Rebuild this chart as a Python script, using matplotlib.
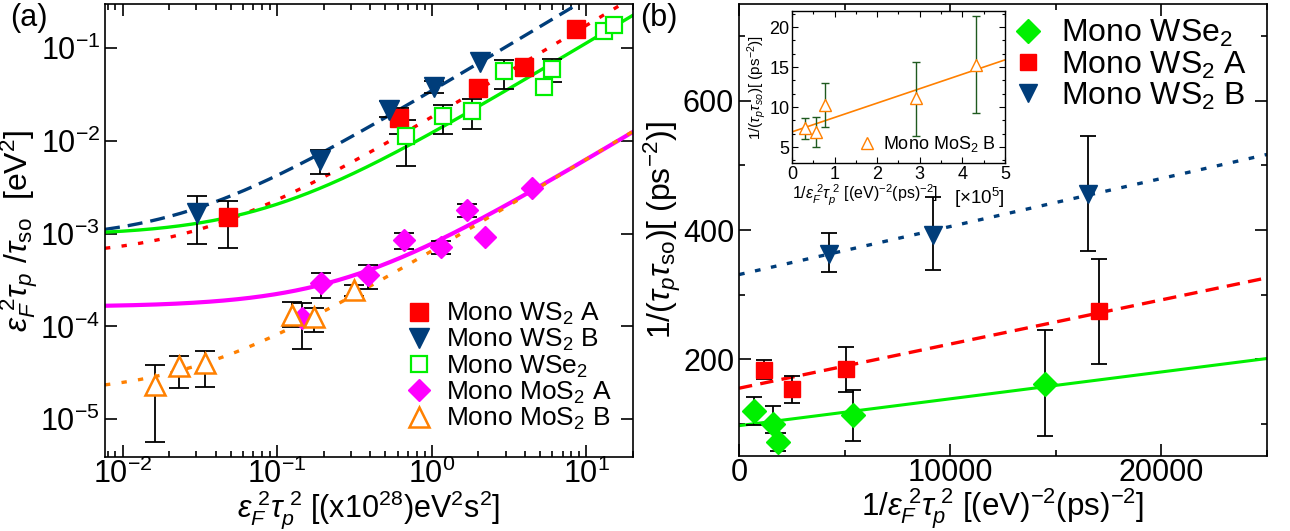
import numpy as np
import matplotlib
matplotlib.use('Agg')
import matplotlib.pyplot as plt
from matplotlib.ticker import NullLocator, MultipleLocator, AutoMinorLocator, LogLocator
from matplotlib.lines import Line2D

plt.rcParams['font.family'] = ['Liberation Sans', 'DejaVu Sans']
plt.rcParams['mathtext.fontset'] = 'custom'
plt.rcParams['mathtext.rm'] = 'Liberation Sans'
plt.rcParams['mathtext.it'] = 'Liberation Sans:italic'
plt.rcParams['mathtext.bf'] = 'Liberation Sans:bold'

RED = '#ff0000'
NAVY = '#003d7a'
GREEN = '#00f000'
MAGENTA = '#ff00ff'
ORANGE = '#ff8000'
DKGREEN = '#1f5a1f'

# ---- panel (a) data: eps^2 tau_p / tau_so vs eps^2 tau_p^2 ----
ws2a_x = [0.048, 0.611, 2.0, 3.97, 8.5]
ws2a_y = [1.50e-3, 0.0175, 0.0373, 0.063, 0.16]
ws2a_ex = [0.048, 0.611]
ws2a_lo = [7.0e-4, 0.0118]
ws2a_hi = [2.24e-3, 0.0225]

ws2b_x = [0.0304, 0.19, 0.532, 1.04, 2.05]
ws2b_y = [1.65e-3, 6.3e-3, 0.0215, 0.0383, 0.071]
ws2b_ex = [0.0304, 0.19, 0.532, 1.04]
ws2b_lo = [7.8e-4, 4.4e-3, 0.0179, 0.0325]
ws2b_hi = [2.54e-3, 7.9e-3, 0.0268, 0.044]

wse2_x = [0.682, 1.18, 1.82, 2.94, 5.35, 6.0, 12.9, 15.0]
wse2_y = [0.01125, 0.0185, 0.021, 0.0565, 0.0383, 0.06, 0.154, 0.18]
wse2_ex = [0.682, 1.18, 1.82, 2.94, 6.0]
wse2_lo = [5.4e-3, 0.0118, 0.0133, 0.0362, 0.0427]
wse2_hi = [0.0168, 0.0247, 0.0282, 0.0743, 0.0774]

mos2a_x = [0.144, 0.192, 0.385, 0.658, 1.14, 1.68, 2.2, 4.43]
mos2a_y = [1.22e-4, 2.9e-4, 3.57e-4, 8.5e-4, 7.1e-4, 1.79e-3, 9.1e-4, 3.07e-3]
mos2a_ex = [0.144, 0.192, 0.385, 0.658, 1.14, 1.68]
mos2a_lo = [5.75e-5, 2.03e-4, 2.5e-4, 6.8e-4, 6.0e-4, 1.52e-3]
mos2a_hi = [1.8e-4, 3.78e-4, 4.57e-4, 1.02e-3, 8.4e-4, 2.08e-3]

mos2b_x = [0.0163, 0.0231, 0.0339, 0.125, 0.174, 0.316]
mos2b_y = [2.33e-5, 3.73e-5, 3.98e-5, 1.33e-4, 1.25e-4, 2.46e-4]
mos2b_lo = [5.7e-6, 2.14e-5, 2.2e-5, 9.9e-5, 8.7e-5, 2.1e-4]
mos2b_hi = [3.8e-5, 4.8e-5, 5.37e-5, 1.84e-4, 1.56e-4, 2.8e-4]

# linear fits y = intercept + slope * x (drawn on log axes)
# order: WS2 A, WS2 B, WSe2, MoS2 A, MoS2 B
fit_intercept_a = [5.6e-4, 8.5e-4, 9.5e-4, 1.62e-4, 1.85e-5]
fit_slope_a = [0.0176, 0.034, 0.0113, 6.18e-4, 6.34e-4]

# ---- panel (b) data: 1/(tau_p tau_so) vs 1/(eps^2 tau_p^2) ----
b_wse2_x = [709, 1622, 1860, 5405, 14468]
b_wse2_y = [120, 99.5, 71, 114, 161.5]
b_wse2_lo = [98.5, 86, 57.4, 74, 80.5]
b_wse2_hi = [141, 126.7, 85, 152, 244.6]

b_ws2a_x = [1182, 2522, 5059, 17021]
b_ws2a_y = [183, 153.8, 184, 274]
b_ws2a_lo = [169, 132, 149, 193]
b_ws2a_hi = [198.5, 174, 219, 355]

b_ws2b_x = [4270, 9187, 16500]
b_ws2b_y = [362.6, 392, 455]
b_ws2b_lo = [335, 338, 367]
b_ws2b_hi = [395, 451, 545]

# fit line end points at x = 0 and x = 25000
b_fit_x = [0, 25000]
b_fit_wse2 = [97, 201]
b_fit_ws2a = [155, 326]
b_fit_ws2b = [331, 517]

# ---- inset data: Mono MoS2 B ----
in_x = [0.305, 0.56, 0.775, 2.91, 4.32]
in_y = [7.35, 6.94, 10.3, 11.1, 15.3]
in_lo = [6.0, 5.0, 7.5, 6.4, 9.2]
in_hi = [8.6, 8.7, 13.0, 15.7, 21.4]
in_fit_x = [0, 5]
in_fit_y = [6.9, 15.9]


def yerr(y, lo, hi):
    y = np.asarray(y)
    return [y - np.asarray(lo), np.asarray(hi) - y]


def pick(xs, ys, sel):
    return [ys[xs.index(v)] for v in sel]


fig = plt.figure(figsize=(12.9, 5.31), dpi=100)

# ======================= panel (a) =======================
ax = fig.add_axes([0.0814, 0.1394, 0.4093, 0.8531])
ax.set_xscale('log')
ax.set_yscale('log')
ax.set_xlim(0.0077, 20)
ax.set_ylim(3.9e-6, 0.30)

xx = np.logspace(np.log10(0.0077), np.log10(20), 300)
fit_styles = [
    dict(color=RED, lw=2.4, ls=(0, (1.6, 3.4))),
    dict(color=NAVY, lw=2.4, ls=(0, (4.5, 2.4))),
    dict(color=GREEN, lw=2.4, ls='-'),
    dict(color=MAGENTA, lw=3.0, ls='-'),
    dict(color=ORANGE, lw=2.4, ls=(0, (1.6, 3.4))),
]
for a0, b0, st in zip(fit_intercept_a, fit_slope_a, fit_styles):
    ax.plot(xx, a0 + b0 * xx, zorder=2, **st)

eb = dict(fmt='none', ecolor='black', elinewidth=1.3, capsize=7, capthick=1.3, zorder=3)
ax.errorbar(ws2a_ex, pick(ws2a_x, ws2a_y, ws2a_ex),
            yerr=yerr(pick(ws2a_x, ws2a_y, ws2a_ex), ws2a_lo, ws2a_hi), **eb)
ax.errorbar(ws2b_ex, pick(ws2b_x, ws2b_y, ws2b_ex),
            yerr=yerr(pick(ws2b_x, ws2b_y, ws2b_ex), ws2b_lo, ws2b_hi), **eb)
ax.errorbar(wse2_ex, pick(wse2_x, wse2_y, wse2_ex),
            yerr=yerr(pick(wse2_x, wse2_y, wse2_ex), wse2_lo, wse2_hi), **eb)
ax.errorbar(mos2a_ex, pick(mos2a_x, mos2a_y, mos2a_ex),
            yerr=yerr(pick(mos2a_x, mos2a_y, mos2a_ex), mos2a_lo, mos2a_hi), **eb)
ax.errorbar(mos2b_x, mos2b_y, yerr=yerr(mos2b_y, mos2b_lo, mos2b_hi), **eb)

ax.plot(ws2a_x, ws2a_y, 's', color=RED, ms=13, mec=RED, zorder=4)
ax.plot(ws2b_x, ws2b_y, 'v', color=NAVY, ms=15, mec=NAVY, zorder=4)
ax.plot(wse2_x, wse2_y, 's', mfc='white', mec=GREEN, mew=1.6, ms=12, zorder=4)
ax.plot(mos2a_x, mos2a_y, 'D', color=MAGENTA, ms=11.5, mec=MAGENTA, zorder=4)
ax.plot(mos2b_x, mos2b_y, '^', mfc='white', mec=ORANGE, mew=1.8, ms=15, zorder=4)

ax.yaxis.set_major_locator(LogLocator(base=10, numticks=10))
ax.yaxis.set_minor_locator(NullLocator())
ax.tick_params(which='both', direction='in', top=True, right=True, labelsize=22, width=1.2)
ax.tick_params(which='major', length=8.5)
ax.tick_params(which='minor', length=4.5)
ax.tick_params(axis='x', which='both', pad=1.5)
for s in ax.spines.values():
    s.set_linewidth(1.2)
ax.set_xlabel(r'$\varepsilon_F^{\ 2}\tau_p^{\ 2}$ [(x10$^{28}$)eV$^2$s$^2$]', fontsize=22, va='center')
ax.xaxis.set_label_coords(0.5, -0.117)
ax.set_ylabel(r'$\varepsilon_F^{\ 2}\tau_p\ /\tau_{\mathrm{so}}$  [eV$^2$]', fontsize=23, labelpad=0)

handles_a = [
    Line2D([], [], ls='none', marker='s', color=RED, ms=13),
    Line2D([], [], ls='none', marker='v', color=NAVY, ms=15),
    Line2D([], [], ls='none', marker='s', mfc='white', mec=GREEN, mew=1.6, ms=12),
    Line2D([], [], ls='none', marker='D', color=MAGENTA, ms=11.5),
    Line2D([], [], ls='none', marker='^', mfc='white', mec=ORANGE, mew=1.8, ms=15),
]
labels_a = ['Mono WS$_2$ A', 'Mono WS$_2$ B', 'Mono WSe$_2$', 'Mono MoS$_2$ A', 'Mono MoS$_2$ B']
ax.legend(handles_a, labels_a, loc='lower right', bbox_to_anchor=(0.99, 0.02),
          frameon=False, fontsize=19, labelspacing=0.0, handletextpad=0.45,
          handlelength=1.2, borderaxespad=0.2)
fig.text(0.008, 0.995, '(a)', fontsize=22, va='top', ha='left')

# ======================= panel (b) =======================
bx = fig.add_axes([0.5729, 0.1412, 0.4093, 0.8513])
bx.set_xlim(0, 25000)
bx.set_ylim(50, 750)
bx.plot(b_fit_x, b_fit_wse2, '-', color=GREEN, lw=2.2, zorder=2)
bx.plot(b_fit_x, b_fit_ws2a, color=RED, lw=2.4, ls=(0, (4, 2.5)), zorder=2)
bx.plot(b_fit_x, b_fit_ws2b, color=NAVY, lw=2.4, ls=(0, (1.7, 3.2)), zorder=2)

ebb = dict(fmt='none', ecolor='black', elinewidth=1.3, capsize=6, capthick=1.3, zorder=3)
bx.errorbar(b_wse2_x, b_wse2_y, yerr=yerr(b_wse2_y, b_wse2_lo, b_wse2_hi), **ebb)
bx.errorbar(b_ws2a_x, b_ws2a_y, yerr=yerr(b_ws2a_y, b_ws2a_lo, b_ws2a_hi), **ebb)
bx.errorbar(b_ws2b_x, b_ws2b_y, yerr=yerr(b_ws2b_y, b_ws2b_lo, b_ws2b_hi), **ebb)
l1, = bx.plot(b_wse2_x, b_wse2_y, 'D', color=GREEN, ms=12, zorder=4)
l2, = bx.plot(b_ws2a_x, b_ws2a_y, 's', color=RED, ms=11, zorder=4)
l3, = bx.plot(b_ws2b_x, b_ws2b_y, 'v', color=NAVY, ms=13, zorder=4)

bx.xaxis.set_major_locator(MultipleLocator(10000))
bx.xaxis.set_minor_locator(MultipleLocator(5000))
bx.yaxis.set_major_locator(MultipleLocator(200))
bx.yaxis.set_minor_locator(MultipleLocator(100))
bx.tick_params(which='both', direction='in', top=True, right=True, labelsize=22, width=1.2)
bx.tick_params(which='major', length=8.5)
bx.tick_params(which='minor', length=4.5)
bx.tick_params(axis='x', which='both', pad=1.5)
for s in bx.spines.values():
    s.set_linewidth(1.2)
bx.set_xlabel(r'1/$\varepsilon_F^{\ 2}\tau_p^{\ 2}$ [(eV)$^{-2}$(ps)$^{-2}$]', fontsize=22.5, va='center')
bx.xaxis.set_label_coords(0.5, -0.117)
bx.set_ylabel(r'1/($\tau_p\tau_{\mathrm{so}}$)[ (ps$^{-2}$)]', fontsize=23, labelpad=0)
bx.legend([l1, l2, l3], ['Mono WSe$_2$', 'Mono WS$_2$ A', 'Mono WS$_2$ B'],
          loc='upper right', bbox_to_anchor=(0.99, 1.0), frameon=False, fontsize=23,
          labelspacing=0.0, handletextpad=0.55, handlelength=1.0, borderaxespad=0.05)
fig.text(0.496, 0.995, '(b)', fontsize=22, va='top', ha='left')

# ======================= inset =======================
ix = fig.add_axes([0.614, 0.693, 0.165, 0.286])
ix.set_xlim(0, 5)
ix.set_ylim(3, 22)
ix.plot(in_fit_x, in_fit_y, '-', color=ORANGE, lw=1.2, zorder=2)
ix.errorbar(in_x, in_y, yerr=yerr(in_y, in_lo, in_hi), fmt='none', ecolor=DKGREEN,
            elinewidth=1.0, capsize=3, capthick=1.0, zorder=3)
li, = ix.plot(in_x, in_y, '^', mfc='white', mec=ORANGE, mew=1.0, ms=8, zorder=4)
ix.xaxis.set_major_locator(MultipleLocator(1))
ix.xaxis.set_minor_locator(AutoMinorLocator(2))
ix.yaxis.set_major_locator(MultipleLocator(5))
ix.yaxis.set_minor_locator(AutoMinorLocator(3))
ix.tick_params(which='both', direction='in', top=True, right=True, labelsize=13, width=0.8, pad=2)
ix.tick_params(which='major', length=4)
ix.tick_params(which='minor', length=2)
for s in ix.spines.values():
    s.set_linewidth(1.0)
ix.set_xlabel(r'1/$\varepsilon_F^{\ 2}\tau_p^{\ 2}$ [(eV)$^{-2}$(ps)$^{-2}$]', fontsize=11.5,
              labelpad=0, loc='left')
ix.set_ylabel(r'1/($\tau_p\tau_{so}$)[ (ps$^{-2}$)]', fontsize=11, labelpad=1)
ix.text(1.0, -0.15, r'[$\times$10$^5$]', transform=ix.transAxes, fontsize=13.5,
        ha='right', va='top')
ix.legend([li], ['Mono MoS$_2$ B'], loc='lower right', frameon=False, fontsize=13,
          handletextpad=0.4, handlelength=1.0, borderaxespad=0.1)

fig.savefig('out.png', dpi=100)
